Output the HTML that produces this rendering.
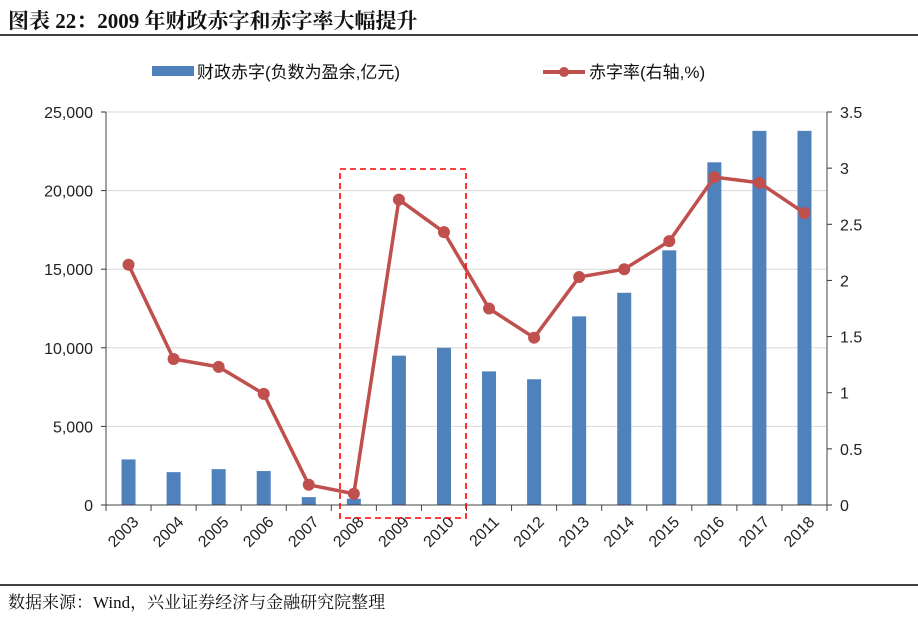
<!DOCTYPE html>
<html><head><meta charset="utf-8"><style>
body{margin:0;background:#fff;}
svg{display:block;font-family:"Liberation Sans","Noto Sans CJK SC",sans-serif;}
</style></head><body>
<svg id="chart" width="918" height="617" viewBox="0 0 918 617">
<text x="8" y="28" font-size="21" font-weight="bold" font-family="'Liberation Serif','Noto Serif CJK SC',serif" fill="#111">图表 22：2009 年财政赤字和赤字率大幅提升</text>
<line x1="0" y1="35" x2="918" y2="35" stroke="#000" stroke-width="1.5"/>
<g>
<rect x="152" y="66" width="42" height="10" fill="#4f81bd"/>
<text x="197" y="78" font-size="17" fill="#111">财政赤字(负数为盈余,亿元)</text>
<line x1="543" y1="72" x2="585" y2="72" stroke="#c0504d" stroke-width="4"/>
<circle cx="564" cy="72" r="5" fill="#c0504d"/>
<text x="589" y="78" font-size="17" fill="#111">赤字率(右轴,%)</text>
</g>
<g id="grid"></g><g id="bars"></g><g id="axes"></g><g id="line"></g>
<rect x="340" y="169" width="126" height="349" fill="none" stroke="#ff0000" stroke-width="1.6" stroke-dasharray="6,4"/>
<line x1="0" y1="585" x2="918" y2="585" stroke="#000" stroke-width="1.5"/>
<text x="8" y="608" font-size="17" font-family="'Liberation Serif','Noto Serif CJK SC',serif" fill="#111">数据来源：Wind，兴业证券经济与金融研究院整理</text>
</svg>
<script>
const categories=["2003","2004","2005","2006","2007","2008","2009","2010","2011","2012","2013","2014","2015","2016","2017","2018"];
const deficitValues=[2900,2090,2280,2160,500,400,9500,10000,8500,8000,12000,13500,16200,21800,23800,23800];
const deficitRateValues=[2.14,1.30,1.23,0.99,0.18,0.10,2.72,2.43,1.75,1.49,2.03,2.10,2.35,2.92,2.87,2.60];
const leftTicks=[0,5000,10000,15000,20000,25000];
const leftTickLabels=["0","5,000","10,000","15,000","20,000","25,000"];
const rightTicks=[0,0.5,1,1.5,2,2.5,3,3.5];
const rightTickLabels=["0","0.5","1","1.5","2","2.5","3","3.5"];
const NS="http://www.w3.org/2000/svg";
const X0=106,X1=827,Y0=505,Y1=112;
const bw=(X1-X0)/categories.length;
const xc=i=>X0+bw*(i+0.5);
const yL=v=>Y0-(v/25000)*(Y0-Y1);
const yR=v=>Y0-(v/3.5)*(Y0-Y1);
function mk(tag,attrs,parent){const e=document.createElementNS(NS,tag);for(const k in attrs)e.setAttribute(k,attrs[k]);document.getElementById(parent).appendChild(e);return e;}
leftTicks.forEach((t,i)=>{
 if(t>0){const g=mk('line',{x1:X0,x2:X1,y1:yL(t),y2:yL(t),stroke:'#d9d9d9','stroke-width':1},'grid');
 
 }
 const tk=mk('line',{x1:X0-5,x2:X0,y1:yL(t),y2:yL(t),stroke:'#333'},'axes');
 
 
 const tx=mk('text',{x:X0-13,y:yL(t)+6,'text-anchor':'end','font-size':16,fill:'#222'},'axes');
 tx.textContent=leftTickLabels[i];
 
 
});
rightTicks.forEach((t,i)=>{
 const tk=mk('line',{x1:X1,x2:X1+5,y1:yR(t),y2:yR(t),stroke:'#333'},'axes');
 
 
 const tx=mk('text',{x:X1+13,y:yR(t)+6,'font-size':16,fill:'#222'},'axes');
 tx.textContent=rightTickLabels[i];
 
 
});
let a=mk('line',{x1:X0,x2:X0,y1:Y1,y2:Y0,stroke:'#444'},'axes');


a=mk('line',{x1:X1,x2:X1,y1:Y1,y2:Y0,stroke:'#444'},'axes');


a=mk('line',{x1:X0,x2:X1,y1:Y0,y2:Y0,stroke:'#444'},'axes');


for(let i=0;i<=categories.length;i++){
 const tk=mk('line',{x1:X0+bw*i,x2:X0+bw*i,y1:Y0,y2:Y0+6,stroke:'#444'},'axes');
 
 
}
categories.forEach((c,i)=>{
 const b=mk('rect',{x:xc(i)-7,y:yL(deficitValues[i]),width:14,height:Y0-yL(deficitValues[i]),fill:'#4f81bd'},'bars');
 
 
 const lx=xc(i)+11,ly=Y0+18;
 const tx=mk('text',{x:lx,y:ly,'text-anchor':'end','font-size':16,fill:'#222',transform:`rotate(-45 ${lx} ${ly})`},'axes');
 tx.textContent=c;
 
 
});
const pts=deficitRateValues.map((v,i)=>xc(i)+','+yR(v)).join(' ');
const pl=mk('polyline',{points:pts,fill:'none',stroke:'#c0504d','stroke-width':3.5,'stroke-linejoin':'round'},'line');


deficitRateValues.forEach((v,i)=>{
 const c=mk('circle',{cx:xc(i),cy:yR(v),r:6,fill:'#c0504d'},'line');
 
 
});
</script>
</body></html>
